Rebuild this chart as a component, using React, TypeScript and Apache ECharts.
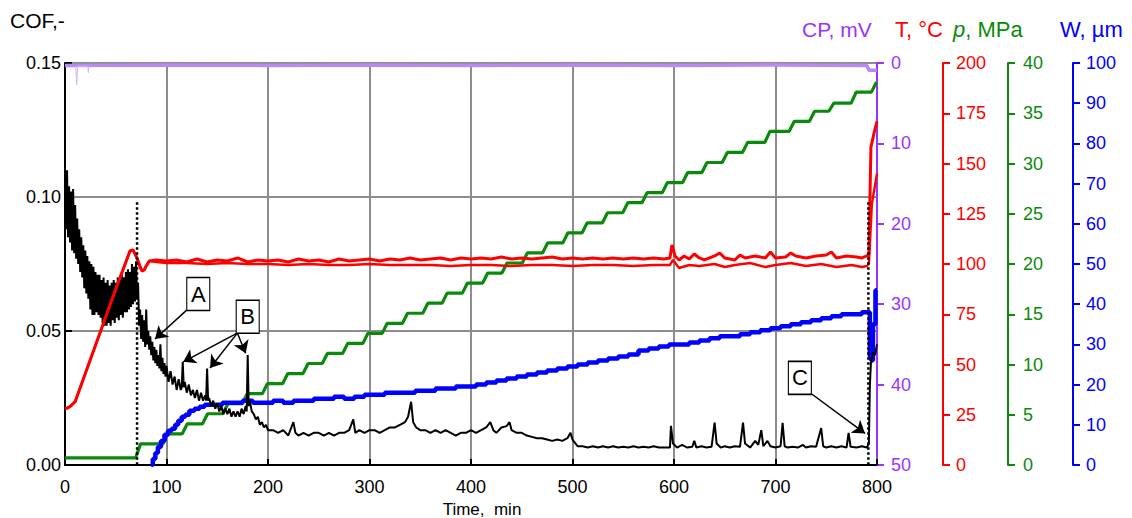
import React, { useEffect, useRef } from "react";
import * as echarts from "echarts";

const FONT = 'Arial, "Liberation Sans", Helvetica, sans-serif';

// ---------- data (time in min) ----------
const cofData: [number, number][] = [
  [0, 0.1], [1, 0.088], [2, 0.11], [3, 0.085], [4, 0.104], [5, 0.083], [6, 0.102], [7, 0.08], [8, 0.103], [9, 0.079],
  [10, 0.097], [11, 0.077], [12, 0.092], [13, 0.075], [14, 0.088], [15, 0.072], [16, 0.085], [17, 0.07], [18, 0.082], [19, 0.066],
  [20, 0.08], [21, 0.064], [22, 0.078], [23, 0.062], [24, 0.076], [25, 0.058], [26, 0.075], [27, 0.056], [28, 0.074], [29, 0.056],
  [30, 0.072], [31, 0.057], [32, 0.071], [33, 0.056], [34, 0.071], [35, 0.055], [36, 0.069], [37, 0.053], [38, 0.07], [39, 0.052],
  [40, 0.068], [41, 0.052], [42, 0.069], [43, 0.053], [44, 0.067], [45, 0.052], [46, 0.068], [47, 0.054], [48, 0.069], [49, 0.053],
  [50, 0.068], [51, 0.055], [52, 0.07], [53, 0.054], [54, 0.069], [55, 0.056], [56, 0.071], [57, 0.055], [58, 0.07], [59, 0.057],
  [60, 0.072], [61, 0.057], [62, 0.073], [63, 0.058], [64, 0.072], [65, 0.059], [66, 0.075], [67, 0.06], [68, 0.074], [69, 0.061],
  [70, 0.076], [71, 0.062], [72, 0.068], [73, 0.052], [74, 0.058], [75, 0.047], [76, 0.056], [77, 0.046], [78, 0.054], [79, 0.044],
  [80, 0.058], [81, 0.045], [82, 0.05], [83, 0.043], [84, 0.048], [85, 0.041], [86, 0.046], [87, 0.039], [88, 0.044], [89, 0.038],
  [90, 0.043], [91, 0.037], [92, 0.041], [93, 0.036], [94, 0.045], [95, 0.035], [96, 0.04], [97, 0.034], [98, 0.038], [99, 0.033],
  [100, 0.037], [102, 0.031], [104, 0.035], [106, 0.03], [108, 0.033], [110, 0.028], [112, 0.032], [114, 0.028], [115, 0.029],
  [116, 0.0385], [117, 0.029], [118, 0.031], [120, 0.027], [122, 0.03], [124, 0.026], [126, 0.028], [128, 0.025], [130, 0.028],
  [132, 0.024], [134, 0.027], [136, 0.024], [138, 0.026], [139, 0.024], [140, 0.036], [141, 0.024], [142, 0.025], [144, 0.022],
  [146, 0.024], [148, 0.021], [150, 0.023], [152, 0.02], [154, 0.022], [156, 0.019], [158, 0.021], [160, 0.019], [162, 0.021],
  [164, 0.018], [166, 0.02], [168, 0.018], [170, 0.02], [172, 0.018], [174, 0.021], [176, 0.019], [178, 0.022], [179, 0.02],
  [180, 0.041], [181, 0.022], [182, 0.024], [184, 0.02], [186, 0.019], [188, 0.017], [190, 0.018], [192, 0.015], [194, 0.016],
  [196, 0.014], [198, 0.015], [200, 0.013], [205, 0.013], [210, 0.012], [215, 0.013], [220, 0.011], [225, 0.016], [227, 0.012],
  [230, 0.011], [235, 0.012], [240, 0.011], [245, 0.012], [250, 0.012], [255, 0.011], [260, 0.012], [265, 0.011], [270, 0.012],
  [275, 0.012], [280, 0.013], [284, 0.017], [286, 0.012], [290, 0.013], [295, 0.012], [300, 0.013], [305, 0.013], [310, 0.012],
  [315, 0.013], [320, 0.014], [325, 0.014], [330, 0.015], [335, 0.016], [338, 0.018], [341, 0.0236], [343, 0.016], [346, 0.014],
  [350, 0.013], [355, 0.013], [360, 0.012], [365, 0.013], [370, 0.012], [375, 0.013], [380, 0.012], [385, 0.011], [390, 0.012],
  [395, 0.012], [400, 0.013], [405, 0.012], [410, 0.013], [415, 0.014], [419, 0.016], [422, 0.013], [425, 0.012], [430, 0.014],
  [435, 0.0145], [438, 0.016], [440, 0.013], [445, 0.012], [450, 0.012], [455, 0.011], [460, 0.0105], [465, 0.01], [470, 0.01],
  [475, 0.0095], [480, 0.009], [485, 0.0095], [490, 0.009], [495, 0.01], [498, 0.012], [500, 0.0095], [503, 0.008], [505, 0.007],
  [510, 0.007], [515, 0.0065], [520, 0.007], [525, 0.0065], [530, 0.007], [535, 0.0065], [540, 0.007], [545, 0.0065], [550, 0.0068],
  [555, 0.0065], [560, 0.007], [565, 0.0065], [570, 0.0068], [575, 0.0065], [580, 0.007], [585, 0.0065], [590, 0.0065], [596, 0.0065],
  [597, 0.0146], [599, 0.008], [603, 0.0065], [608, 0.0075], [613, 0.0065], [618, 0.0068], [620, 0.009], [622, 0.0065], [627, 0.007],
  [632, 0.0065], [637, 0.0068], [640, 0.0158], [642, 0.008], [646, 0.0065], [650, 0.007], [655, 0.0065], [660, 0.007], [665, 0.0068],
  [668, 0.0158], [670, 0.008], [675, 0.0065], [680, 0.009], [683, 0.0075], [686, 0.013], [688, 0.007], [692, 0.009], [695, 0.007],
  [700, 0.0065], [705, 0.007], [707, 0.0157], [709, 0.007], [712, 0.0065], [717, 0.0068], [722, 0.0065], [727, 0.0075], [730, 0.0065],
  [735, 0.007], [740, 0.0068], [745, 0.0138], [747, 0.007], [750, 0.0065], [755, 0.007], [760, 0.0065], [765, 0.007], [770, 0.0065],
  [772, 0.012], [774, 0.0068], [780, 0.0065], [785, 0.007], [790, 0.0065], [792, 0.008], [793, 0.03], [794, 0.038], [796, 0.042],
  [798, 0.041], [800, 0.045],
];

const tempShared: [number, number][] = [
  [0, 28], [3, 28.5], [6, 29.5], [10, 31.5], [20, 45.5], [30, 59.5], [40, 73.5], [50, 87.5], [60, 101], [64, 106.5],
  [67, 107], [70, 104], [72, 101.5], [74, 98.5], [76, 96.5], [78, 97], [80, 99], [83, 101.5],
];

const temp1: [number, number][] = [
  [90, 102], [100, 101.5], [110, 102], [120, 101], [130, 102.5], [140, 101], [150, 102], [160, 101.5], [170, 103], [180, 101],
  [190, 102], [200, 101.5], [210, 102], [220, 101], [230, 102.5], [240, 101.5], [250, 102], [260, 101], [270, 102.5], [280, 101.5],
  [290, 102], [300, 102.5], [310, 101.5], [320, 102.5], [330, 102], [340, 103], [350, 102], [360, 102.5], [370, 103], [380, 102],
  [390, 103], [400, 102.5], [410, 103], [420, 102.5], [430, 103.5], [440, 102.5], [450, 103], [460, 102.5], [470, 103], [480, 103.5],
  [490, 102.5], [500, 103], [510, 102.5], [520, 103], [530, 102.5], [540, 103], [550, 102.5], [560, 103], [570, 102.5], [580, 103],
  [590, 102.5], [596, 103], [598, 109.5], [601, 104], [605, 102], [610, 104], [615, 102.5], [620, 105], [625, 103], [630, 102],
  [640, 104], [645, 105.5], [650, 103], [660, 102], [665, 104.5], [670, 103], [680, 104], [690, 103], [695, 106], [700, 103],
  [710, 103.5], [715, 105.5], [720, 104], [730, 103], [740, 104], [750, 104.5], [755, 106], [760, 103], [770, 104], [780, 103.5],
  [785, 103], [790, 104], [792, 105], [794, 158], [797, 165], [800, 171],
];

const temp2: [number, number][] = [
  [90, 101], [100, 100.5], [120, 100.5], [140, 100], [160, 100.5], [180, 100], [200, 100], [220, 99.5], [240, 100], [260, 99.5],
  [280, 99.5], [300, 100], [320, 99.5], [340, 99.5], [360, 99.5], [380, 99], [400, 99.5], [420, 99.5], [440, 99], [460, 99.5],
  [480, 99.5], [500, 99], [520, 99.5], [540, 99.5], [560, 99], [580, 99.5], [596, 99.5], [599, 102], [605, 98], [615, 99.5],
  [625, 99], [640, 100], [650, 98.5], [660, 99.5], [675, 100.5], [690, 98.5], [700, 99.5], [715, 100.5], [730, 99], [745, 100],
  [760, 98.5], [775, 99.5], [785, 98.5], [790, 99], [792, 100], [795, 130], [800, 145],
];

const pStepTimes = [
  72, 99, 118, 138, 158, 177, 197, 217, 237, 256, 276, 296, 315, 335, 355, 374, 394, 414, 433,
  453, 473, 493, 512, 532, 552, 571, 591, 611, 630, 650, 670, 692, 716, 736, 755, 777, 797,
];
const pLevels = [
  0.7, 2.1, 3.1, 4.1, 5.1, 6.1, 7.1, 8.1, 9.1, 10.1, 11.1, 12.1, 13.1, 14.1, 15.1, 16.1, 17.1, 18.1, 19.1,
  20.1, 21.1, 22.1, 23.1, 24.1, 25.1, 26.1, 27.1, 28.1, 29.1, 30.1, 31.1, 32.1, 33.2, 34.2, 35.2, 36.0, 37.1, 38.1,
];

const wearData: [number, number][] = [
  [85, 0], [88, 1.5], [90, 3], [93, 4.5], [96, 6], [100, 7.5], [103, 8.5], [107, 9], [110, 10], [113, 11], [117, 12],
  [120, 12.5], [125, 13.5], [130, 14], [135, 14.5], [140, 15], [150, 15], [160, 15.5], [170, 15.5], [180, 16], [190, 15.5],
  [200, 15.5], [210, 16], [220, 15.5], [230, 16], [240, 16], [250, 16.5], [260, 16.5], [270, 17], [280, 16.5], [290, 17],
  [300, 17.5], [310, 17.5], [320, 18], [330, 18], [340, 18], [350, 18.5], [360, 18.5], [370, 19], [380, 19], [390, 19.5],
  [400, 19.5], [410, 20], [420, 20.5], [430, 21], [440, 21.5], [450, 22], [460, 22.5], [470, 23], [480, 23.5], [490, 24],
  [500, 24.5], [510, 25], [520, 25.5], [530, 26], [540, 26.5], [550, 27], [560, 27.5], [570, 28.5], [580, 29], [590, 29.5],
  [600, 30], [610, 30], [620, 30.5], [630, 31], [640, 31.5], [650, 32], [660, 32], [670, 32.5], [680, 33], [690, 33.5],
  [700, 34], [710, 34.5], [720, 35], [730, 35.5], [740, 36], [750, 36.5], [760, 37], [770, 37.5], [780, 37.5], [790, 38],
  [792, 38], [794, 27], [795, 26], [797, 35], [800, 43.5],
];

const cpData: [number, number][] = [
  [0, 0.3], [100, 0.25], [200, 0.3], [300, 0.25], [400, 0.3], [500, 0.25], [600, 0.3], [700, 0.25], [790, 0.3],
  [792, 0.9], [800, 0.9],
];
const cpSpikes: [number, number][] = [
  [10.5, 0.4], [11.5, 2.7], [12.5, 0.4], [22.5, 0.4], [23, 1.2], [23.5, 0.4],
];

// event markers (time, COF top of dotted line)
const eventLines: [number, number][] = [[71, 0.098], [791.5, 0.098]];

// annotation labels and arrows (data coordinates: time, COF)
const boxLabels: { name: string; at: [number, number] }[] = [
  { name: "A", at: [131.3, 0.0638] },
  { name: "B", at: [180, 0.0553] },
  { name: "C", at: [724, 0.0325] },
];
const arrowLines: [[number, number], [number, number]][] = [
  [[119.9, 0.0578], [88.7, 0.047]],
  [[169.2, 0.0491], [116.5, 0.0385]],
  [[169.6, 0.0491], [142.9, 0.0362]],
  [[170, 0.0491], [178, 0.0417]],
  [[735.7, 0.0265], [788.2, 0.0118]],
];

const xTicks = { min: 0, max: 800, interval: 100 };

export default function App() {
  const ref = useRef<HTMLDivElement>(null);

  useEffect(() => {
    const chart = echarts.init(ref.current!, null, { renderer: "svg" });

    const pData: [number, number][] = [[0, pLevels[0]]];
    pStepTimes.forEach((t, i) => {
      pData.push([t - 2.5, pLevels[i]]);
      pData.push([Math.min(t + 2.5, 800), pLevels[i + 1]]);
    });
    pData.push([800, pLevels[pLevels.length - 1]]);

    const rightAxis = (color: string, offset: number, max: number, interval: number, inverse = false, margin = 13) => ({
      type: "value",
      position: "right",
      offset,
      min: 0,
      max,
      interval,
      inverse,
      axisLine: { show: true, lineStyle: { color, width: 2 } },
      axisTick: { show: true, inside: false, length: 7, lineStyle: { color, width: 2 } },
      axisLabel: { color, fontSize: 18, fontFamily: FONT, margin },
      splitLine: { show: false },
    });

    const lineBase = { type: "line", showSymbol: false, symbol: "none", silent: true };

    chart.setOption({
      animation: false,
      backgroundColor: "#fff",
      grid: { left: 65, right: 255, top: 63, bottom: 53, containLabel: false, outerBoundsMode: "none" },
      xAxis: {
        type: "value",
        ...xTicks,
        name: "Time,  min",
        nameLocation: "middle",
        nameGap: 27,
        nameTextStyle: { color: "#000", fontSize: 17, fontFamily: FONT, padding: [0, 0, 0, 22] },
        axisLine: { show: true, onZero: false, lineStyle: { color: "#000", width: 2 } },
        axisTick: { show: true, inside: true, length: 6, lineStyle: { color: "#000", width: 2 } },
        axisLabel: { color: "#000", fontSize: 18, fontFamily: FONT, margin: 13 },
        splitLine: { show: true, lineStyle: { color: "#8c8c8c", width: 2 } },
      },
      yAxis: [
        {
          type: "value",
          position: "left",
          min: 0,
          max: 0.15,
          interval: 0.05,
          axisLine: { show: true, lineStyle: { color: "#000", width: 2 } },
          axisTick: { show: true, inside: true, length: 7, lineStyle: { color: "#000", width: 2 } },
          axisLabel: { color: "#000", fontSize: 18, fontFamily: FONT, margin: 4, formatter: (v: number) => v.toFixed(2) },
          splitLine: { show: true, lineStyle: { color: "#8c8c8c", width: 2 } },
        },
        rightAxis("#9933ff", 0, 50, 10, true, 14),
        rightAxis("#ff0000", 66, 200, 25),
        rightAxis("#0a8a0a", 131, 40, 5, false, 15),
        rightAxis("#0000ff", 196, 100, 10),
      ],
      graphic: [
        { type: "text", left: 10, top: 10, style: { text: "COF,-", fontSize: 21, fontFamily: FONT, fill: "#000" } },
        { type: "text", left: 802, top: 19, style: { text: "CP, mV", fontSize: 21, fontFamily: FONT, fill: "#9933ff" } },
        { type: "text", left: 895, top: 18, style: { text: "T, °C", fontSize: 22, fontFamily: FONT, fill: "#ff0000" } },
        {
          type: "text",
          left: 953,
          top: 18,
          style: {
            text: "{i|p}, MPa",
            fontSize: 22,
            fontFamily: FONT,
            fill: "#0a8a0a",
            rich: { i: { fontStyle: "italic", fontSize: 22, fontFamily: FONT, fill: "#0a8a0a" } },
          },
        },
        { type: "text", left: 1060, top: 18, style: { text: "W, µm", fontSize: 22, fontFamily: FONT, fill: "#0000ff" } },
      ],
      series: [
        { ...lineBase, name: "p", yAxisIndex: 3, data: pData, lineStyle: { color: "#0a8a0a", width: 3.2 }, z: 2 },
        { ...lineBase, name: "W", yAxisIndex: 4, data: wearData, step: "middle", lineStyle: { color: "#0000ff", width: 4.5 }, z: 3 },
        {
          ...lineBase,
          name: "COF",
          yAxisIndex: 0,
          data: cofData,
          lineStyle: { color: "#000", width: 2 },
          z: 4,
        },
        { ...lineBase, name: "T2", yAxisIndex: 2, data: [...tempShared, ...temp2], lineStyle: { color: "#ff0000", width: 2.4 }, z: 5 },
        { ...lineBase, name: "T1", yAxisIndex: 2, data: [...tempShared, ...temp1], lineStyle: { color: "#ff0000", width: 3 }, z: 5 },
        { ...lineBase, name: "CP", yAxisIndex: 1, data: cpData, lineStyle: { color: "#b98af5", width: 3.5 }, z: 6 },
        { ...lineBase, name: "CP spikes", yAxisIndex: 1, data: cpSpikes, lineStyle: { color: "#d2b4fa", width: 1 }, z: 6 },
        ...eventLines.map(([t, top], i) => ({
          ...lineBase,
          name: "event" + i,
          yAxisIndex: 0,
          data: [[t, top], [t, 0]],
          lineStyle: { color: "#000", width: 2.5, type: [2.5, 2.5] },
          z: 7,
        })),
        {
          ...lineBase,
          name: "annotations",
          yAxisIndex: 0,
          data: [],
          z: 10,
          markLine: {
            silent: true,
            symbol: ["none", "arrow"],
            symbolSize: 12,
            label: { show: false },
            lineStyle: { color: "#000", width: 1.5, type: "solid" },
            data: arrowLines.map(([a, b]) => [{ coord: a }, { coord: b }]),
          },
          markPoint: {
            silent: true,
            symbol: "rect",
            symbolSize: [23, 33],
            itemStyle: { color: "#fff", borderColor: "#000", borderWidth: 1.3 },
            label: { show: true, position: "inside", color: "#000", fontSize: 22, fontFamily: FONT, formatter: (p: any) => p.name },
            data: boxLabels.map((b) => ({ name: b.name, coord: b.at })),
          },
        },
      ],
    });

    return () => chart.dispose();
  }, []);

  return (
    <div
      ref={ref}
      style={{ position: "fixed", left: 0, top: 0, width: 1132, height: 518, background: "#fff" }}
    />
  );
}
